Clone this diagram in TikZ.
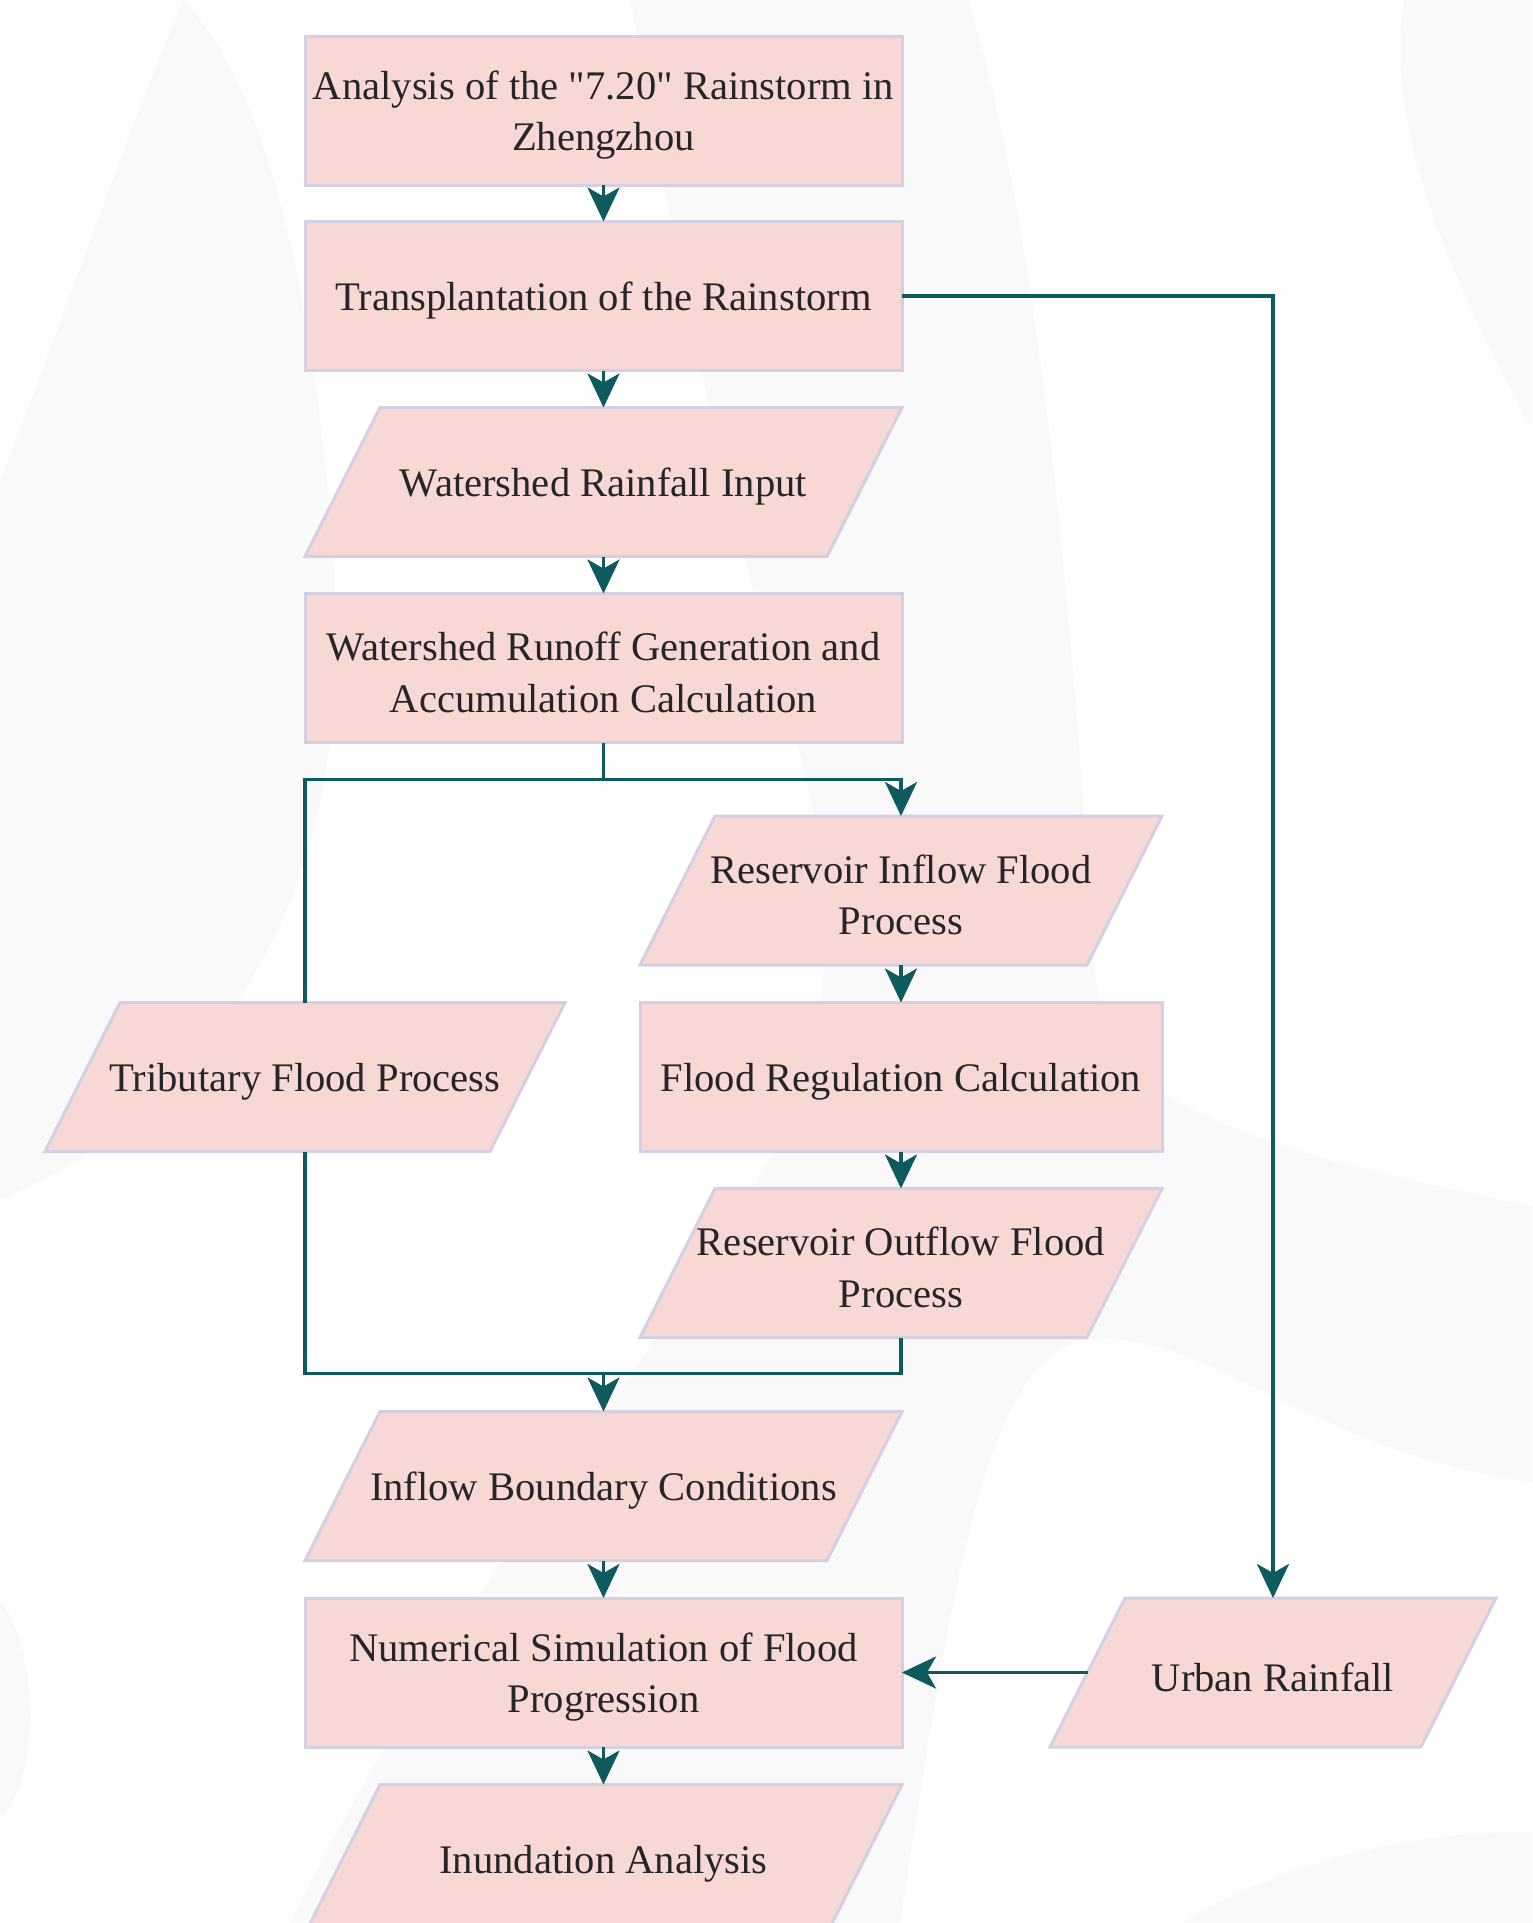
\documentclass[tikz,border=0pt]{standalone}
\usepackage{fontspec}
\setmainfont{Liberation Serif}[Ligatures=TeXOff]
\usetikzlibrary{calc,arrows.meta}
\definecolor{pinkfill}{HTML}{F8D8D4}
\definecolor{lav}{HTML}{D3D0E6}
\definecolor{teal}{HTML}{0E5A5E}
\definecolor{textcol}{HTML}{262626}
\definecolor{bggray}{HTML}{F9F9F9}
\newcommand\paranode[5]{%
  \path[parashape] (#2-#4/2,#3+74.5) -- (#2+#4/2-75,#3+74.5) -- (#2+#4/2,#3-74.5) -- (#2-#4/2+75,#3-74.5) -- cycle;
  \node[shape only, minimum width=#4pt, label={[txtlab, name=#1t]center:{#5}}] (#1) at (#2,#3) {};}
\tikzset{
  x=1pt, y=-1pt,
  shape only/.style={rectangle, inner sep=0pt, outer sep=0pt, minimum height=149pt},
  txtlab/.style={inner sep=0pt, outer sep=0pt, align=center, text=textcol,
    font=\fontsize{40.6pt}{51.6pt}\selectfont, yshift=-4.5pt},
  box/.style={shape only, draw=lav, fill=pinkfill, line width=3pt},
  parashape/.style={fill=pinkfill, draw=lav, line width=3pt},
  conn/.style={draw=teal, line width=3.5pt},
  arr/.style={conn, -{Stealth[length=34pt, width=32pt, inset=9pt]}},
}
\begin{document}
\begin{tikzpicture}
\useasboundingbox (0,0) rectangle (1532,1923);
\clip (0,0) rectangle (1532,1923);
\fill[white] (0,0) rectangle (1532,1923);
% background shapes
\fill[bggray] (183,0) .. controls (260,80) and (300,250) .. (320,420)
  .. controls (345,620) and (345,780) .. (283,918)
  .. controls (220,1060) and (120,1150) .. (0,1200) -- (0,480)
  .. controls (60,330) and (120,150) .. (183,0) -- cycle;
\fill[bggray] (630,0) .. controls (660,150) and (700,420) .. (790,720)
  .. controls (830,850) and (830,950) .. (815,1050)
  .. controls (760,1250) and (500,1500) .. (290,1923) -- (900,1923)
  .. controls (950,1600) and (980,1380) .. (1075,1341)
  .. controls (1200,1320) and (1300,1450) .. (1532,1482) -- (1532,1206)
  .. controls (1350,1170) and (1180,1130) .. (1110,1050)
  .. controls (1085,960) and (1085,800) .. (1080,760)
  .. controls (1060,500) and (1030,200) .. (968,0) -- cycle;
\fill[bggray] (1404,0) .. controls (1380,150) and (1480,330) .. (1532,430) -- (1532,0) -- cycle;
\fill[bggray] (1182,1923) .. controls (1300,1850) and (1450,1830) .. (1532,1832) -- (1532,1923) -- cycle;
\fill[bggray] (0,1600) .. controls (40,1650) and (40,1780) .. (0,1820) -- cycle;

% nodes
\node[box, minimum width=597pt, label={[txtlab, name=n1t]center:{Analysis of the "7.20" Rainstorm in\\Zhengzhou}}] (n1) at (603.5,110.5) {};
\node[box, minimum width=597pt, label={[txtlab, name=n2t]center:{Transplantation of the Rainstorm}}] (n2) at (603.5,296) {};
\paranode{n3}{603.5}{482}{597}{Watershed Rainfall Input}
\node[box, minimum width=597pt, label={[txtlab, name=n4t]center:{Watershed Runoff Generation and\\Accumulation Calculation}}] (n4) at (603.5,668) {};
\paranode{n5}{901}{890.5}{522}{Reservoir Inflow Flood\\Process}
\node[box, minimum width=522pt, label={[txtlab, name=n6t]center:{Flood Regulation Calculation}}] (n6) at (901,1077) {};
\paranode{n7}{901}{1263}{522}{Reservoir Outflow Flood\\Process}
\paranode{n8}{305}{1077}{520}{Tributary Flood Process}
\paranode{n9}{603.5}{1486}{597}{Inflow Boundary Conditions}
\node[box, minimum width=597pt, label={[txtlab, name=n10t]center:{Numerical Simulation of Flood\\Progression}}] (n10) at (603.5,1672.5) {};
\paranode{n11}{603.5}{1859}{597}{Inundation Analysis}
\paranode{n12}{1273}{1672.5}{446}{Urban Rainfall}

% connectors
\draw[arr] (n1) -- (n2);
\draw[arr] (n2) -- (n3);
\draw[arr] (n3) -- (n4);
\coordinate (br) at ($(n4.south)+(0,37)$);
\draw[conn] (n4.south) -- (br);
\draw[conn] (br) -| (n8.north);
\draw[arr] (br) -| (n5.north);
\draw[arr] (n5) -- (n6);
\draw[arr] (n6) -- (n7);
\coordinate (mg) at ($(n9.north)+(0,-38)$);
\draw[conn] (n8.south) |- (mg);
\draw[conn] (n7.south) |- (mg);
\draw[arr] (mg) -- (n9.north);
\draw[arr] (n9) -- (n10);
\draw[arr] (n10) -- (n11);
\draw[arr] (n2.east) -| (n12.north);
\coordinate (n12l) at ($(n12.west)+(37.5,0)$);
\draw[arr] (n12l) -- (n10.east);
\end{tikzpicture}
\end{document}
